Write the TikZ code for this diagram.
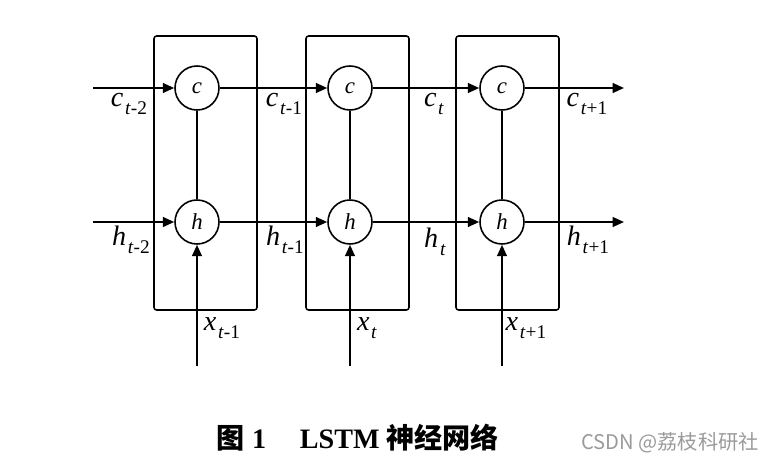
\documentclass[tikz,border=0pt]{standalone}
\usepackage{fontspec}
\setmainfont{Liberation Serif}
\newfontfamily\cjkfont{Noto Sans CJK SC}
\usepackage{tikz}
\usetikzlibrary{positioning, arrows.meta}
\definecolor{markGray}{HTML}{9A9A9A}
\newcommand{\lstmlab}[2]{\textit{#1}\kern1pt\raisebox{-0.6ex}{\fontsize{11}{12}\selectfont\textit{t}#2}}

\begin{document}
\begin{tikzpicture}[x=0.02cm, y=-0.02cm,
    >={Triangle[length=6.5pt,width=5.6pt]},
    cellbox/.style={draw, line width=0.9pt, rounded corners=1.5pt,
      minimum width=103*0.02cm, minimum height=274*0.02cm, inner sep=0pt},
    gate/.style={draw, circle, line width=0.9pt, minimum size=44*0.02cm,
      inner sep=0pt, font=\fontsize{13}{15}\selectfont\itshape},
    flow/.style={line width=1.1pt},
    lab/.style={font=\fontsize{16}{18}\selectfont, inner sep=0pt}]
    \useasboundingbox (0,0) rectangle (772,466);
    % the three cells
    \node[cellbox] (cell1) at (205.5,173) {};
    \node[cellbox] (cell2) at (357.5,173) {};
    \node[cellbox] (cell3) at (507.5,173) {};
    % gates
    \node[gate] (c1) at (197,88) {c};
    \node[gate] (c2) at (350,88) {c};
    \node[gate] (c3) at (502,88) {c};
    \node[gate] (h1) at (197,222) {h};
    \node[gate] (h2) at (350,222) {h};
    \node[gate] (h3) at (502,222) {h};
    % free ends
    \coordinate (cin) at (93,88);
    \coordinate (hin) at (93,222);
    \coordinate (cout) at (624,88);
    \coordinate (hout) at (624,222);
    \coordinate (xin1) at (197,366);
    \coordinate (xin2) at (350,366);
    \coordinate (xin3) at (502,366);
    % cell state row
    \draw[flow, ->] (cin) -- (c1);
    \draw[flow, ->] (c1) -- (c2);
    \draw[flow, ->] (c2) -- (c3);
    \draw[flow, ->] (c3) -- (cout);
    % hidden state row
    \draw[flow, ->] (hin) -- (h1);
    \draw[flow, ->] (h1) -- (h2);
    \draw[flow, ->] (h2) -- (h3);
    \draw[flow, ->] (h3) -- (hout);
    % c -- h links and inputs
    \draw[flow] (c1) -- (h1);
    \draw[flow] (c2) -- (h2);
    \draw[flow] (c3) -- (h3);
    \draw[flow, ->] (xin1) -- (h1);
    \draw[flow, ->] (xin2) -- (h2);
    \draw[flow, ->] (xin3) -- (h3);
    % labels
    \node[lab] (lc0) at (129,104) {\lstmlab{c}{-2}};
    \node[lab] (lc1) at (284,104) {\lstmlab{c}{-1}};
    \node[lab] (lc2) at (434,104) {\lstmlab{c}{}};
    \node[lab] (lc3) at (587,104) {\lstmlab{c}{+1}};
    \node[lab] (lh0) at (131,240) {\lstmlab{h}{-2}};
    \node[lab] (lh1) at (285,240) {\lstmlab{h}{-1}};
    \node[lab] (lh2) at (435,242) {\lstmlab{h}{}};
    \node[lab] (lh3) at (588,240) {\lstmlab{h}{+1}};
    \node[lab] (lx1) at (222,328) {\lstmlab{x}{-1}};
    \node[lab] (lx2) at (367,328) {\lstmlab{x}{}};
    \node[lab] (lx3) at (526,328) {\lstmlab{x}{+1}};
    % caption and mark
    \node[inner sep=0pt, font=\fontsize{16}{18}\selectfont\bfseries] (caption) at (358,438)
      {{\cjkfont\bfseries 图}~1\hspace{1.2em}LSTM {\cjkfont\bfseries 神经网络}};
    \node[inner sep=0pt, text=markGray, font=\cjkfont\fontsize{11.5}{13}\selectfont] (mark) at (670,443)
      {CSDN @荔枝科研社};
  \end{tikzpicture}
\end{document}
